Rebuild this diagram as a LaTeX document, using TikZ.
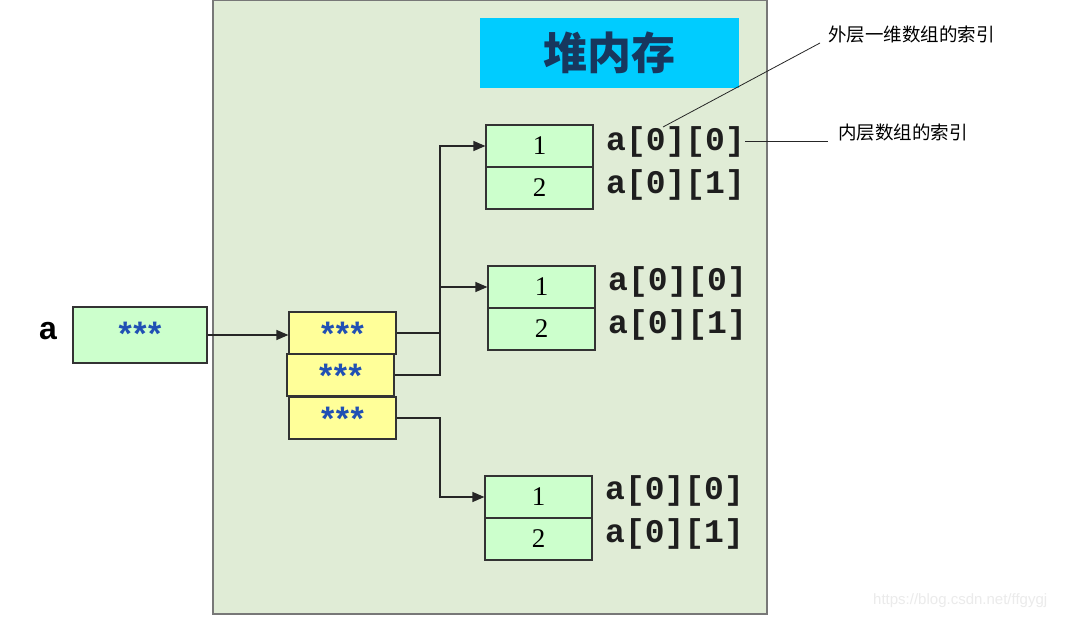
\documentclass[tikz,border=0pt]{standalone}
\usepackage{fontspec}
\setmainfont{Liberation Serif}
\newfontfamily\cjk{Noto Sans CJK SC}
\newfontfamily\monob{Liberation Mono}
\newfontfamily\arialf{Liberation Sans}
\usetikzlibrary{arrows.meta}
\definecolor{panelbg}{RGB}{224,236,214}
\definecolor{panelline}{RGB}{120,120,120}
\definecolor{titlebg}{RGB}{0,204,255}
\definecolor{titletxt}{RGB}{23,55,94}
\definecolor{cellgreen}{RGB}{204,255,204}
\definecolor{cellyellow}{RGB}{255,255,153}
\definecolor{starblue}{RGB}{32,80,180}
\definecolor{wm}{RGB}{235,235,235}
\definecolor{idxtxt}{RGB}{30,30,30}
\tikzset{
  cell/.style={draw=black!80, line width=1.2pt, fill=cellgreen, minimum width=107pt, minimum height=42pt, inner sep=0pt, font=\fontsize{27}{27}\selectfont, text depth=-2pt},
  ycell/.style={draw=black!80, line width=1.2pt, fill=cellyellow, minimum width=107pt, minimum height=42pt, inner sep=0pt, text height=24pt, text depth=0pt},
  idx/.style={anchor=west, inner sep=0pt, text=idxtxt, font=\monob\bfseries\fontsize{33}{33}\selectfont},
  conn/.style={draw=black!85, line width=1.2pt},
  arr/.style={conn, -{Triangle[length=12pt,width=10pt]}},
  note/.style={anchor=west, inner sep=0pt, font=\cjk\fontsize{18.5}{18.5}\selectfont}
}
\newcommand{\stars}{\textcolor{starblue}{\arialf\bfseries\fontsize{34}{34}\selectfont *\kern1.5pt*\kern1.5pt*}}
\begin{document}
\begin{tikzpicture}[x=1pt,y=-1pt]
\useasboundingbox (0,0) rectangle (1068,620);
\fill[white] (0,0) rectangle (1068,620);
% heap panel
\node[draw=panelline, line width=2pt, fill=panelbg, minimum width=554pt, minimum height=614pt, inner sep=0pt] (panel) at (490,307) {};
\node[fill=titlebg, minimum width=259pt, minimum height=70pt, inner sep=0pt, text=titletxt, font=\cjk\bfseries\fontsize{44}{44}\selectfont] (title) at (609.5,53) {堆内存};
% variable a
\node[font=\arialf\bfseries\fontsize{32}{32}\selectfont, inner sep=0pt] (alab) at (48,331) {a};
\node[draw=black!80, line width=1.2pt, fill=cellgreen, minimum width=134pt, minimum height=56pt, inner sep=0pt, text height=21pt, text depth=0pt] (abox) at (140,335) {\stars};
% yellow pointer boxes
\node[ycell] (y1) at (342.5,333) {\stars};
\node[ycell] (y2) at (340.5,375) {\stars};
\node[ycell] (y3) at (342.5,418) {\stars};
% arrays
\node[cell] (b1a) at (539.5,146) {1};
\node[cell] (b1b) at (539.5,188) {2};
\node[cell] (b2a) at (541.5,287) {1};
\node[cell] (b2b) at (541.5,329) {2};
\node[cell] (b3a) at (538.5,497) {1};
\node[cell] (b3b) at (538.5,539) {2};
% index labels
\node[idx] (l1a) at (606,142) {a[0][0]};
\node[idx] (l1b) at (606,185) {a[0][1]};
\node[idx] (l2a) at (608,282) {a[0][0]};
\node[idx] (l2b) at (608,325) {a[0][1]};
\node[idx] (l3a) at (605,491) {a[0][0]};
\node[idx] (l3b) at (605,534) {a[0][1]};
% connectors
\draw[arr] (abox.east) -- (abox.east -| y1.west);
\coordinate (v) at (440,0);
\draw[arr] (y1.east) -- (y1.east -| v) |- (b1a.west);
\draw[arr] (y2.east) -- (y2.east -| v) |- (b2a.west);
\draw[arr] (y3.east) -- (y3.east -| v) |- (b3a.west);
% annotations
\node[note] (n1) at (828,35) {外层一维数组的索引};
\node[note] (n2) at (838,133) {内层数组的索引};
\coordinate (p1) at (663,127);
\coordinate (p2) at (745,142);
\draw[black!85, line width=0.8pt] (820,43) -- (p1);
\draw[black!85, line width=1pt] (p2) -- (828,142);
% watermark
\node[anchor=west, inner sep=0pt, text=wm, font=\arialf\fontsize{15}{15}\selectfont] (wmk) at (873,601) {https://blog.csdn.net/ffgygj};
\end{tikzpicture}
\end{document}
